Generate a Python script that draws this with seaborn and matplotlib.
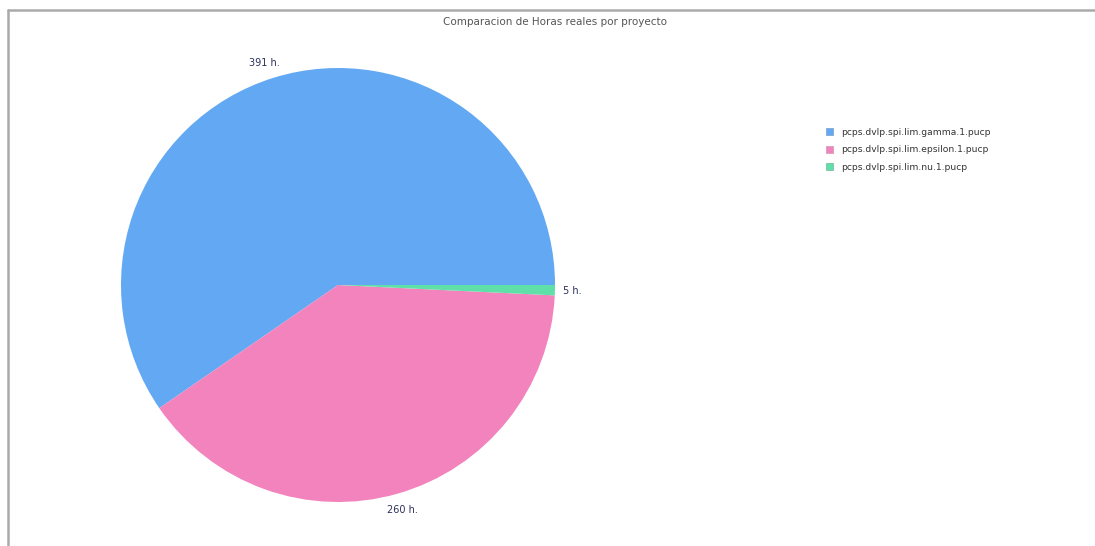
import matplotlib
matplotlib.use("Agg")
import matplotlib.pyplot as plt
from matplotlib.lines import Line2D
from matplotlib.patches import Patch
import seaborn as sns

sns.set_theme(style="white")
plt.rcParams['font.family'] = ['DejaVu Sans']

projects = ["pcps.dvlp.spi.lim.gamma.1.pucp",
            "pcps.dvlp.spi.lim.epsilon.1.pucp",
            "pcps.dvlp.spi.lim.nu.1.pucp"]
hours = [391, 260, 5]
labels = ["391 h.", "260 h.", "5 h."]
colors = ["#62A8F3", "#F283BC", "#5FE0A8"]

W, H = 1095, 546
fig = plt.figure(figsize=(W / 100, H / 100), dpi=100)
fig.patch.set_facecolor("white")

cx, cy, r = 338, 285, 217
ax = fig.add_axes([(cx - r) / W, (H - cy - r) / H, 2 * r / W, 2 * r / H])
wedges, texts = ax.pie(hours, colors=colors, startangle=0, counterclock=True,
                       labels=labels, labeldistance=1.08,
                       wedgeprops=dict(linewidth=0),
                       textprops=dict(fontsize=7, color="#2b2f5c"))
for t in texts:
    t.set_horizontalalignment("center")
texts[0].set_position((texts[0].get_position()[0] - 0.02, texts[0].get_position()[1] - 0.01))
ax.set_xlim(-1, 1)
ax.set_ylim(-1, 1)
ax.set_aspect("equal")
ax.axis("off")

fig.text(555 / W, 1 - 22 / H, "Comparacion de Horas reales por proyecto",
         ha="center", va="center", fontsize=7.5, color="#555555")

handles = [Patch(facecolor=c, edgecolor=sns.desaturate(c, 0.5), linewidth=0.6)
           for c in colors]
leg = fig.legend(handles, projects, loc="upper left",
                 bbox_to_anchor=(822 / W, 1 - 124 / H), frameon=False,
                 fontsize=6.6, handlelength=0.8, handleheight=0.8,
                 handletextpad=0.9, labelspacing=0.95, borderaxespad=0)
for t in leg.get_texts():
    t.set_color("#333333")

frame_c = "#aaaaaa"
fig.add_artist(Line2D([8 / W, 8 / W], [0, 1 - 10 / H], transform=fig.transFigure,
                      color=frame_c, linewidth=1.8))
fig.add_artist(Line2D([8 / W, 1], [1 - 10 / H, 1 - 10 / H], transform=fig.transFigure,
                      color=frame_c, linewidth=1.8))

fig.savefig("out.png", dpi=100)
